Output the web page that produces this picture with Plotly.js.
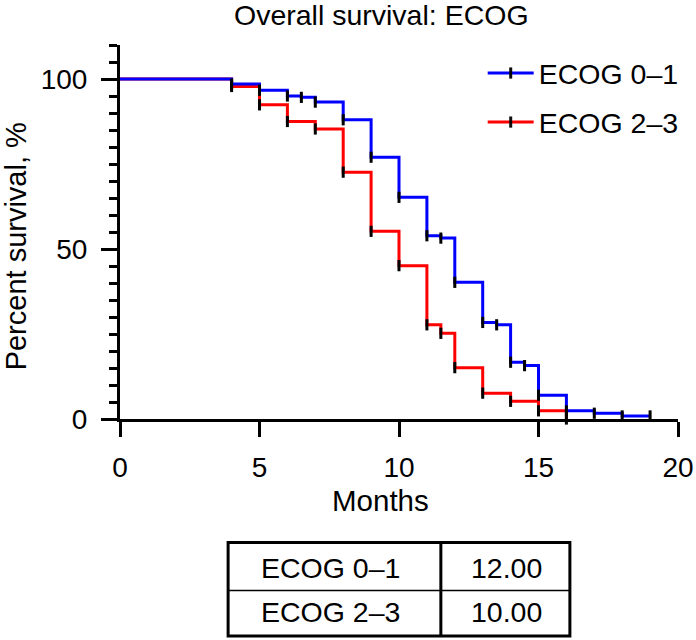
<!DOCTYPE html>
<html>
<head>
<meta charset="utf-8">
<script src="https://cdn.plot.ly/plotly-3.0.1.min.js"></script>
<style>html,body{margin:0;padding:0;background:#fff}#chart{width:696px;height:640px}</style>
</head>
<body>
<div id="chart"></div>
<script>
// Kaplan–Meier step data (months, percent survival)
const seriesNames = ["ECOG 0\u20131", "ECOG 2\u20133"];
const ecog01Months = [0, 4, 5, 6, 6.5, 7, 8, 9, 10, 11, 11.5, 12, 13, 13.5, 14, 14.5, 15, 16, 17, 18, 19];
const ecog01Surv   = [100, 98.5, 96.7, 95.0, 94.6, 93.2, 88.0, 77.0, 65.2, 53.9, 53.2, 40.2, 28.4, 27.7, 16.7, 15.7, 7.0, 2.4, 1.7, 0.9, 0.9];
const ecog23Months = [0, 4, 5, 6, 7, 8, 9, 10, 11, 11.5, 12, 13, 14, 15, 16];
const ecog23Surv   = [100, 97.8, 92.4, 87.5, 85.3, 72.6, 55.2, 45.1, 27.7, 25.2, 15.1, 7.6, 5.2, 2.4, 0];
const xTicks = [0, 5, 10, 15, 20];
const yTicks = [0, 50, 100];
const yMinorTicks = [5,10,15,20,25,30,35,40,45,55,60,65,70,75,80,85,90,95,105,110];
const medianLabels = ["ECOG 0\u20131", "ECOG 2\u20133"];
const medianValues = ["12.00", "10.00"];

const FONT = "Liberation Sans, Arial, Helvetica, sans-serif";
const FS = 28.5;
const colors = ["#0000FF", "#FF0000"];

function kmTrace(x, y, name, color, group, rank) {
  return {
    x: x, y: y, name: name, type: "scatter", mode: "lines+markers",
    legendgroup: group, legendrank: rank,
    line: {shape: "hv", color: color, width: 3},
    marker: {
      symbol: "line-ns", size: 8, color: "black",
      line: {color: "black", width: 3},
      opacity: x.map((v) => v === 0 ? 0 : 1)
    },
    cliponaxis: false,
    hoverinfo: "x+y+name"
  };
}

// red drawn first so the blue line sits on top where they overlap
const traces = [
  kmTrace(ecog23Months, ecog23Surv, seriesNames[1], colors[1], "g2", 2),
  kmTrace(ecog01Months, ecog01Surv, seriesNames[0], colors[0], "g1", 1)
];

// helpers: pixel -> paper (plot area spans x 120..680, y 45..419)
const pxX = (p) => (p - 120) / 560;
const pxY = (p) => (419 - p) / 374;
const tL = pxX(228.5), tM = pxX(442), tR = pxX(571.5);
const tT = pxY(542.5), tMid = pxY(590.5), tB = pxY(636);
const shapes = [
  {type: "rect", xref: "paper", yref: "paper", x0: tL, x1: tR, y0: tB, y1: tT, line: {color: "black", width: 3}},
  {type: "line", xref: "paper", yref: "paper", x0: tM, x1: tM, y0: tB, y1: tT, line: {color: "black", width: 3}},
  {type: "line", xref: "paper", yref: "paper", x0: tL, x1: tR, y0: tMid, y1: tMid, line: {color: "black", width: 1.3}}
];

const rowY = [pxY(568), pxY(612)];
const annotations = [
  {text: "Overall survival: ECOG", xref: "paper", yref: "paper", x: pxX(382), y: pxY(15), showarrow: false, font: {family: FONT, size: FS, color: "black"}, xanchor: "center", yanchor: "middle"},
  {text: "Months", xref: "paper", yref: "paper", x: pxX(381), y: pxY(500), showarrow: false, font: {family: FONT, size: 29.5, color: "black"}, xanchor: "center", yanchor: "middle"},
  {text: "Percent survival, %", xref: "paper", yref: "paper", x: pxX(16), y: pxY(246), showarrow: false, textangle: -90, font: {family: FONT, size: 29, color: "black"}, xanchor: "center", yanchor: "middle"}
];
for (let i = 0; i < medianLabels.length; i++) {
  annotations.push({text: medianLabels[i], xref: "paper", yref: "paper", x: pxX(331), y: rowY[i], showarrow: false, font: {family: FONT, size: FS, color: "black"}, xanchor: "center", yanchor: "middle"});
  annotations.push({text: medianValues[i], xref: "paper", yref: "paper", x: pxX(508), y: rowY[i], showarrow: false, font: {family: FONT, size: FS, color: "black"}, xanchor: "center", yanchor: "middle"});
}

const layout = {
  width: 696, height: 640,
  margin: {l: 120, r: 16, t: 45, b: 221},
  paper_bgcolor: "white", plot_bgcolor: "white",
  font: {family: FONT, size: FS, color: "black"},
  showlegend: true,
  legend: {
    x: pxX(484), y: pxY(48), xanchor: "left", yanchor: "top",
    font: {family: FONT, size: FS, color: "black"},
    traceorder: "grouped", tracegroupgap: 9,
    itemwidth: 46, bgcolor: "rgba(0,0,0,0)"
  },
  xaxis: {
    range: [0, 20], tickvals: xTicks, ticktext: xTicks.map(String),
    showline: true, linecolor: "black", linewidth: 3,
    ticks: "outside", ticklen: 15, tickwidth: 3, tickcolor: "black",
    ticklabelstandoff: 6,
    showgrid: false, zeroline: false, fixedrange: true,
    tickfont: {family: FONT, size: 28, color: "black"}
  },
  yaxis: {
    range: [0, 110], tickvals: yTicks, ticktext: yTicks.map(String),
    showline: true, linecolor: "black", linewidth: 3,
    ticks: "outside", ticklen: 16, tickwidth: 3, tickcolor: "black",
    ticklabelstandoff: 8,
    minor: {tickvals: yMinorTicks, ticklen: 8, tickwidth: 3, tickcolor: "black", ticks: "outside", showgrid: false},
    showgrid: false, zeroline: false, fixedrange: true,
    tickfont: {family: FONT, size: 28, color: "black"}
  },
  shapes: shapes,
  annotations: annotations
};

Plotly.newPlot("chart", traces, layout, {staticPlot: true, displayModeBar: false});
</script>
</body>
</html>
